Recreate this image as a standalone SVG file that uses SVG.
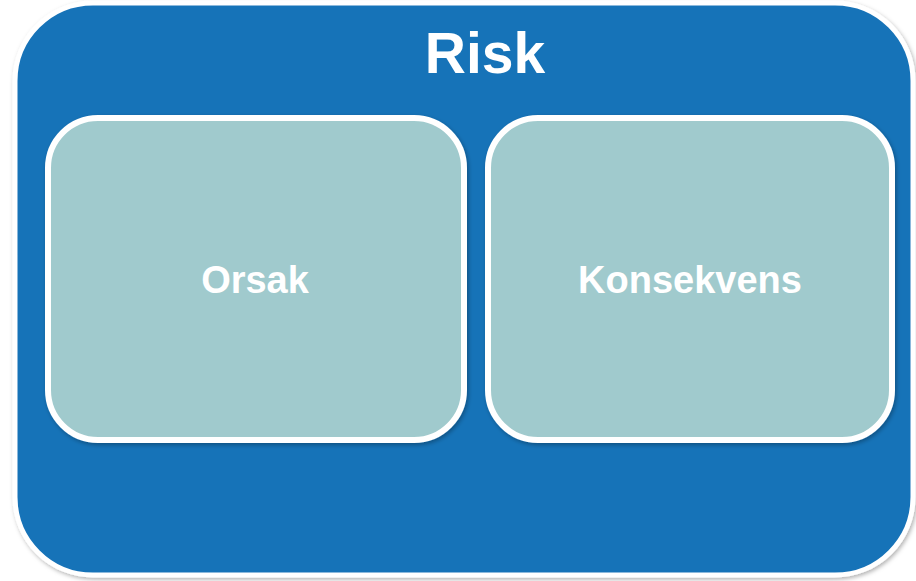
<svg xmlns="http://www.w3.org/2000/svg" width="916" height="581" viewBox="0 0 916 581">
  <defs>
    <filter id="shadow" x="-5%" y="-5%" width="110%" height="110%">
      <feDropShadow dx="1.5" dy="2" stdDeviation="2" flood-color="#000" flood-opacity="0.3"/>
    </filter>
  </defs>
  <style>
    .outer { fill: #1873B8; stroke: #fff; stroke-width: 5; }
    .inner { fill: #A0CACD; stroke: #fff; stroke-width: 6; }
    .label { font-family: "Liberation Sans", Arial, sans-serif; font-weight: bold; fill: #fff; text-anchor: middle; }
  </style>
  <rect width="916" height="581" fill="#fff"/>
  <g id="risk">
    <rect class="outer" x="15" y="3" width="898" height="572" rx="78" ry="78" filter="url(#shadow)"/>
    <text class="label" x="485" y="73" font-size="57">Risk</text>
  </g>
  <g id="orsak">
    <rect class="inner" x="48" y="118" width="416" height="322" rx="50" ry="50" filter="url(#shadow)"/>
    <text class="label" x="255" y="293" font-size="38">Orsak</text>
  </g>
  <g id="konsekvens">
    <rect class="inner" x="488" y="118" width="404" height="322" rx="50" ry="50" filter="url(#shadow)"/>
    <text class="label" x="690" y="293" font-size="38">Konsekvens</text>
  </g>
  <g id="connectors"/>
</svg>
